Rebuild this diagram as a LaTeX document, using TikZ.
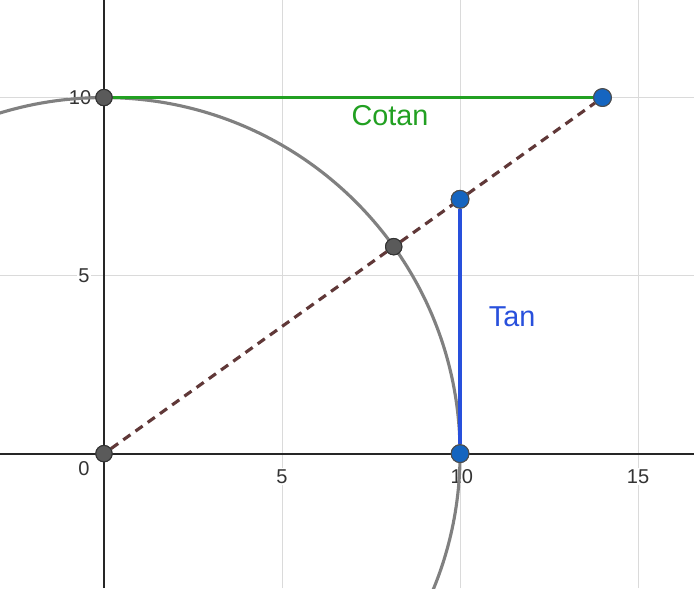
\documentclass[tikz,border=0pt]{standalone}
\usepackage{fontspec}
\setmainfont{Liberation Sans}
\usetikzlibrary{positioning,calc}
\definecolor{gridgray}{RGB}{218,218,218}
\definecolor{circlegray}{RGB}{128,128,128}
\definecolor{cotangreen}{RGB}{34,160,34}
\definecolor{tanblue}{RGB}{40,80,220}
\definecolor{pointblue}{RGB}{21,101,192}
\definecolor{pointgray}{RGB}{90,90,90}
\definecolor{raybrown}{RGB}{96,56,56}
\tikzset{
  gridline/.style={
    draw=gridgray, line width=0.8pt
  },
  axisline/.style={
    draw=black!85, line width=1.4pt
  },
  unitcircle/.style={
    draw=circlegray, line width=2.5pt
  },
  cotanline/.style={
    draw=cotangreen, line width=2.5pt
  },
  tanline/.style={
    draw=tanblue, line width=2.5pt
  },
  rayline/.style={
    draw=raybrown, line width=2.5pt, dash pattern=on 7pt off 5pt
  },
  graypoint/.style={
    circle, draw=black!80, fill=pointgray, line width=0.8pt,
    minimum size=0.46cm, inner sep=0pt
  },
  bluepoint/.style={
    circle, draw=black!70, fill=pointblue, line width=0.8pt,
    minimum size=0.5cm, inner sep=0pt
  },
  ticklabel/.style={
    font=\fontsize{16}{18}\selectfont, text=black!80, fill=white, inner sep=1pt
  },
  linelabel/.style={
    font=\fontsize{23}{26}\selectfont
  }
}

\begin{document}
\begin{tikzpicture}[x=1cm, y=1cm]

    \useasboundingbox (-2.92,-3.78) rectangle (16.57,12.74);
    \clip (-2.92,-3.78) rectangle (16.57,12.74);

    % grid
    \foreach \gx in {5,10,15} {
      \draw[gridline] (\gx,-3.78) -- (\gx,12.74);
    }
    \foreach \gy in {5,10} {
      \draw[gridline] (-2.92,\gy) -- (16.57,\gy);
    }

    % axes
    \draw[axisline] (-2.92,0) -- (16.57,0);
    \draw[axisline] (0,-3.78) -- (0,12.74);

    % tick labels
    \node[ticklabel] (t10y) at (-0.67,10) {10};
    \node[ticklabel] (t5y) at (-0.56,5) {5};
    \node[ticklabel] (t0) at (-0.56,-0.42) {0};
    \node[ticklabel] (t5x) at (5,-0.64) {5};
    \node[ticklabel] (t10x) at (10.05,-0.64) {10};
    \node[ticklabel] (t15x) at (15,-0.64) {15};

    \draw[unitcircle] (0,0) circle (10);

    % points
    \node[graypoint] (orig) at (0,0) {};
    \node[graypoint] (top) at (0,10) {};
    \node[graypoint] (hit) at (8.137,5.812) {};
    \node[bluepoint] (cot) at (14,10) {};
    \node[bluepoint] (tanend) at (10,7.143) {};
    \node[bluepoint] (base) at (10,0) {};

    \draw[rayline] (orig) -- (hit) -- (tanend) -- (cot);
    \draw[cotanline] (top) -- (cot);
    \draw[tanline] (base) -- (tanend);

    \node[linelabel, text=cotangreen] (cotlabel) at (8.03,9.5) {Cotan};
    \node[linelabel, text=tanblue] (tanlabel) at (11.46,3.84) {Tan};

    % redraw points on top
    \node[graypoint] at (orig) {};
    \node[graypoint] at (top) {};
    \node[graypoint] at (hit) {};
    \node[bluepoint] at (cot) {};
    \node[bluepoint] at (tanend) {};
    \node[bluepoint] at (base) {};

  \end{tikzpicture}
\end{document}
